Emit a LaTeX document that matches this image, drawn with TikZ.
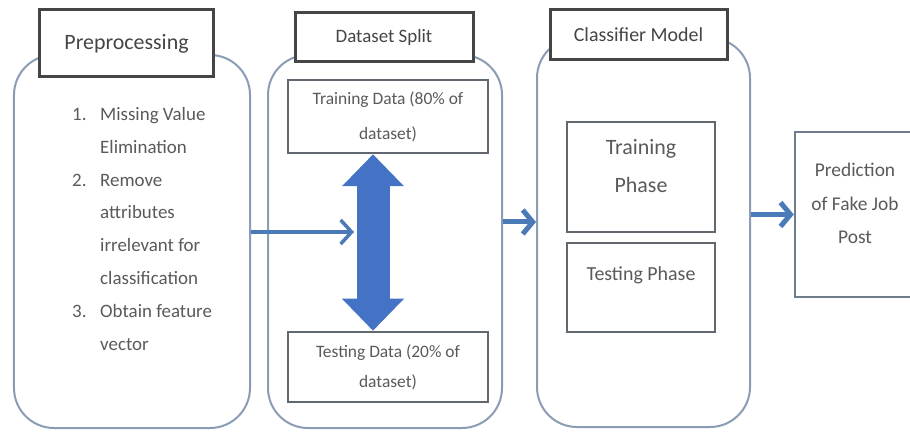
\documentclass[tikz,border=0pt]{standalone}
\usepackage{fontspec}
\setmainfont{Carlito}
\usetikzlibrary{arrows.meta}
\definecolor{txt}{HTML}{5A5A5A}
\definecolor{ttl}{HTML}{454545}
\definecolor{cont}{HTML}{8A9DB5}
\definecolor{inbox}{HTML}{62686F}
\definecolor{predbox}{HTML}{6E7C8C}
\definecolor{arrowblue}{HTML}{4A7AB8}
\definecolor{blockblue}{HTML}{4472C4}
\begin{document}
\begin{tikzpicture}[x=1bp,y=-1bp,
  container/.style={draw=cont, line width=2bp, rounded corners=40bp, fill=white, inner sep=0},
  titlebox/.style={draw=ttl, line width=3bp, fill=white, inner sep=0, text=ttl},
  innerbox/.style={draw=inbox, line width=2.5bp, fill=white, inner sep=0, text=txt, align=center},
  label/.style={inner sep=0, text=txt, align=center},
  conn/.style={draw=arrowblue, line width=3.5bp, -{Straight Barb[length=11bp,width=24bp]}},
  connfat/.style={draw=arrowblue, line width=5bp, -{Straight Barb[length=10bp,width=24bp]}},
  blockarrow/.style={draw=blockblue, line width=33bp,
    {Triangle[length=32bp,width=60bp]}-{Triangle[length=32bp,width=60bp]}},
]
\clip (0,0) rectangle (910,435);
\fill[white] (0,0) rectangle (910,435);

% containers
\node[container, minimum width=236bp, minimum height=373bp] (pre) at (132,241.5) {};
\node[container, minimum width=234bp, minimum height=373bp] (ds) at (385,241.5) {};
\node[container, minimum width=213bp, minimum height=389bp] (cl) at (643.5,232.5) {};

% title boxes
\node[titlebox, minimum width=173bp, minimum height=67bp, font=\fontsize{22}{26}\selectfont] (pret) at (126.5,43.5) {Preprocessing};
\node[titlebox, minimum width=178bp, minimum height=49bp, font=\fontsize{19}{24}\selectfont] (dst) at (384,37.5) {Dataset Split};
\node[titlebox, minimum width=177bp, minimum height=50bp, font=\fontsize{20}{24}\selectfont] (clt) at (638.5,35) {Classifier Model};

% preprocessing list
\node[anchor=north west, inner sep=0, text=txt, align=left, font=\fontsize{19}{33}\selectfont] (list) at (72,107)
{\makebox[28bp][l]{1.}Missing Value\\
 \hspace*{28bp}Elimination\\
 \makebox[28bp][l]{2.}Remove\\
 \hspace*{28bp}attributes\\
 \hspace*{28bp}irrelevant for\\
 \hspace*{28bp}classification\\
 \makebox[28bp][l]{3.}Obtain feature\\
 \hspace*{28bp}vector};

% dataset split boxes
\node[innerbox, minimum width=200bp, minimum height=73bp, font=\fontsize{17.5}{35}\selectfont] (tr) at (388,116.5) {Training Data (80\% of\\dataset)};
\node[innerbox, minimum width=200bp, minimum height=70bp, font=\fontsize{17.5}{30}\selectfont] (te) at (388,367) {Testing Data (20\% of\\dataset)};

% classifier boxes
\node[innerbox, minimum width=148bp, minimum height=110bp] (tp) at (641,177) {};
\node[label, font=\fontsize{22}{38}\selectfont] (tpl) at (641,166) {Training\\Phase};
\node[innerbox, minimum width=148bp, minimum height=89bp] (tep) at (641,287.5) {};
\node[label, font=\fontsize{20}{24}\selectfont] (tepl) at (641,275) {Testing Phase};

% prediction box
\node[innerbox, draw=predbox, minimum width=120bp, minimum height=165bp] (pred) at (855,214.5) {};
\node[label, font=\fontsize{19.5}{33.5}\selectfont] (predl) at (855,203.5) {Prediction\\of Fake Job\\Post};

% connectors
\draw[blockarrow] ([xshift=-15bp]tr.south) -- ([xshift=-15bp]te.north);
\coordinate (a1e) at (354,232);
\draw[conn] (pre.east |- a1e) -- (a1e);
\coordinate (a2y) at (0,222);
\draw[connfat] (ds.east |- a2y) -- (cl.west |- a2y);
\draw[connfat] (cl.east |- pred.west) -- (pred.west);
\end{tikzpicture}
\end{document}
